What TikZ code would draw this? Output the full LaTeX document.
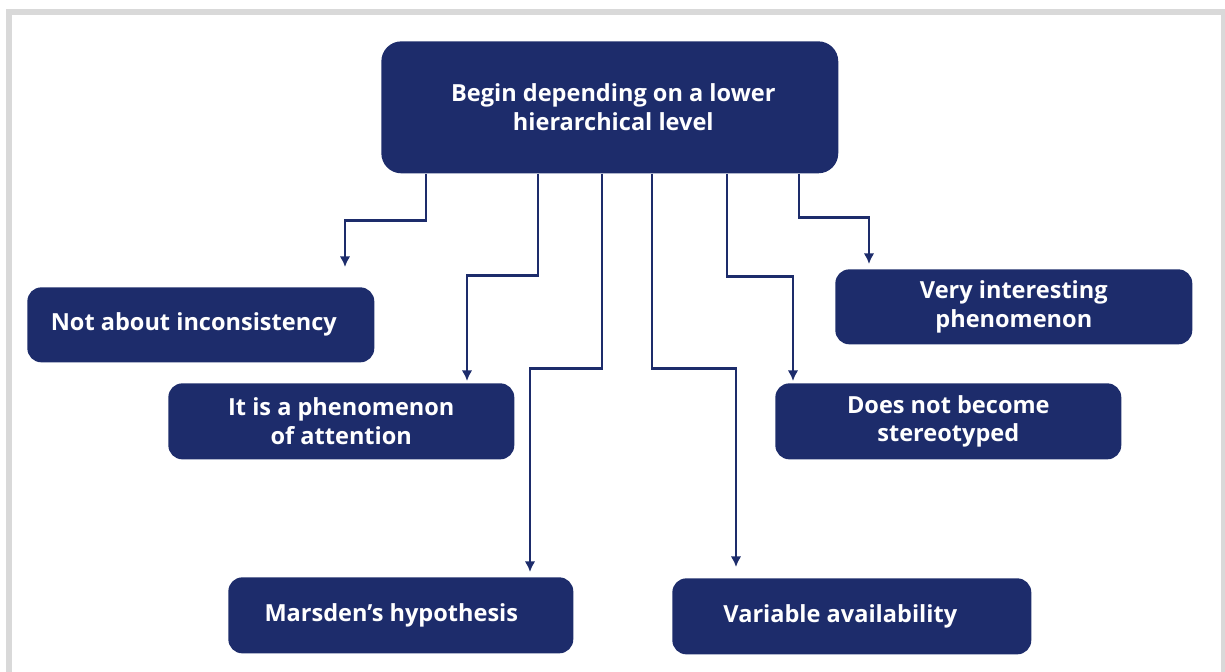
\documentclass[tikz,border=0pt]{standalone}
\usepackage{fontspec}
\setmainfont{Open Sans}
\usepackage{tikz}
\usetikzlibrary{arrows.meta}
\usetikzlibrary{calc}
\usetikzlibrary{positioning}
\definecolor{navy}{RGB}{29,44,107}
\definecolor{framegray}{RGB}{217,217,217}

\begin{document}
\begin{tikzpicture}[x=0.02cm, y=-0.02cm,
    box/.style={fill=navy, rounded corners=0.28cm, anchor=north west, align=center,
                text=white, font=\fontsize{13.4}{16.2}\selectfont\bfseries, inner sep=0pt},
    link/.style={draw=navy, line width=1.4pt, -{Latex[length=6pt,width=6pt]}}]
  \useasboundingbox (0, 0) rectangle (1225, 672);
  \draw[framegray, line width=0.12cm] (9, 12) rectangle (1223.5, 720);

  \node[box, minimum width=9.14cm, minimum height=2.64cm, rounded corners=0.4cm] (top) at (381, 41) {\hspace{0.14cm}Begin depending on a lower \\ \hspace{0.14cm}hierarchical level};
  \node[box, minimum width=6.94cm, minimum height=1.5cm] (inc) at (27, 287) {Not about inconsistency\hspace{0.28cm}};
  \node[box, minimum width=6.92cm, minimum height=1.52cm] (att) at (168, 383) {It is a phenomenon \\ of attention};
  \node[box, minimum width=6.9cm, minimum height=1.52cm] (mar) at (228, 577) {Marsden’s hypothesis\hspace{0.38cm}};
  \node[box, minimum width=7.18cm, minimum height=1.52cm] (var) at (672, 578) {Variable availability\hspace{0.46cm}};
  \node[box, minimum width=6.92cm, minimum height=1.52cm] (ste) at (775, 383) {Does not become \\ stereotyped};
  \node[box, minimum width=7.14cm, minimum height=1.5cm] (phe) at (835, 269) {Very interesting \\ phenomenon};

  \draw[link, shorten >=0.4cm] ($(top.south west)+(45,0)$) -- ++(0, 47) -| ($(inc.north west)+(318,0)$);
  \draw[link, shorten >=0.04cm] ($(top.south west)+(157,0)$) -- ++(0, 102) -| ($(att.north west)+(299,0)$);
  \draw[link, shorten >=0.1cm] ($(top.south west)+(221,0)$) -- ++(0, 195) -| ($(mar.north west)+(302,0)$);
  \draw[link, shorten >=0.22cm] ($(top.south west)+(271,0)$) -- ++(0, 195) -| ($(var.north west)+(64,0)$);
  \draw[link, shorten >=0.04cm] ($(top.south west)+(346,0)$) -- ++(0, 103) -| ($(ste.north west)+(18,0)$);
  \draw[link, shorten >=0.1cm] ($(top.south west)+(418,0)$) -- ++(0, 44) -| ($(phe.north west)+(34,0)$);
\end{tikzpicture}
\end{document}
